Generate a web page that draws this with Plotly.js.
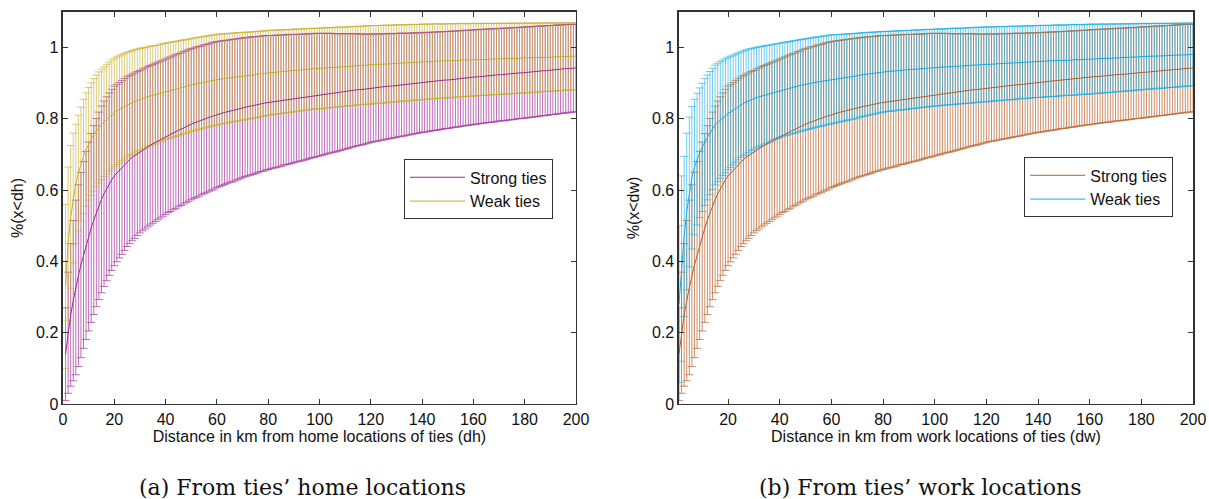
<!DOCTYPE html>
<html>
<head>
<meta charset="utf-8">
<script src="https://cdn.plot.ly/plotly-3.0.1.min.js"></script>
<style>html,body{margin:0;padding:0;background:#fff;}#chart{width:1209px;height:499px;}</style>
</head>
<body>
<div id="chart"></div>
<script>
// Distance grid (km), one error bar per km
const distanceKm = Array.from({length: 200}, (_, i) => i + 1);

// Strong ties: mean CDF and std (same in both panels)
const strongMean = [
0.140,0.200,0.250,0.290,0.327,0.360,0.390,0.418,0.445,0.470,
0.494,0.516,0.537,0.556,0.574,0.590,0.604,0.617,0.629,0.640,
0.648,0.656,0.664,0.672,0.680,0.686,0.692,0.697,0.703,0.708,
0.713,0.717,0.722,0.726,0.730,0.734,0.738,0.742,0.746,0.750,
0.754,0.757,0.761,0.764,0.768,0.771,0.775,0.778,0.782,0.785,
0.788,0.791,0.793,0.796,0.799,0.801,0.804,0.807,0.809,0.812,
0.814,0.816,0.818,0.820,0.822,0.823,0.825,0.827,0.829,0.831,
0.833,0.834,0.836,0.837,0.839,0.840,0.842,0.843,0.845,0.846,
0.847,0.848,0.849,0.850,0.851,0.853,0.854,0.855,0.856,0.857,
0.858,0.859,0.860,0.861,0.862,0.864,0.865,0.866,0.867,0.868,
0.869,0.870,0.871,0.872,0.873,0.873,0.874,0.875,0.876,0.877,
0.878,0.879,0.880,0.881,0.882,0.882,0.883,0.884,0.885,0.886,
0.887,0.888,0.888,0.889,0.890,0.891,0.892,0.892,0.893,0.894,
0.895,0.896,0.896,0.897,0.898,0.899,0.900,0.900,0.901,0.902,
0.903,0.903,0.904,0.905,0.906,0.906,0.907,0.908,0.909,0.909,
0.910,0.911,0.912,0.912,0.913,0.914,0.915,0.915,0.916,0.917,
0.918,0.918,0.919,0.920,0.920,0.921,0.922,0.922,0.923,0.924,
0.924,0.925,0.925,0.926,0.927,0.927,0.928,0.929,0.929,0.930,
0.931,0.931,0.932,0.933,0.933,0.934,0.935,0.935,0.936,0.937,
0.937,0.938,0.939,0.939,0.940,0.941,0.941,0.942,0.942,0.943];
const strongStd = [
0.130,0.170,0.200,0.225,0.245,0.255,0.260,0.262,0.264,0.265,
0.265,0.265,0.264,0.263,0.262,0.260,0.258,0.256,0.254,0.252,
0.249,0.246,0.244,0.241,0.238,0.236,0.234,0.232,0.230,0.228,
0.227,0.226,0.225,0.224,0.223,0.222,0.221,0.220,0.219,0.218,
0.217,0.217,0.216,0.216,0.215,0.214,0.214,0.213,0.213,0.212,
0.211,0.211,0.210,0.209,0.209,0.208,0.207,0.207,0.206,0.205,
0.204,0.203,0.202,0.201,0.200,0.200,0.199,0.198,0.197,0.196,
0.195,0.194,0.194,0.193,0.192,0.191,0.190,0.190,0.189,0.188,
0.187,0.186,0.186,0.185,0.184,0.183,0.182,0.182,0.181,0.180,
0.179,0.178,0.178,0.177,0.176,0.175,0.174,0.174,0.173,0.172,
0.171,0.170,0.169,0.168,0.167,0.166,0.165,0.164,0.163,0.162,
0.161,0.160,0.159,0.158,0.157,0.156,0.155,0.154,0.153,0.152,
0.151,0.151,0.150,0.149,0.149,0.148,0.148,0.147,0.146,0.146,
0.145,0.145,0.144,0.143,0.143,0.142,0.142,0.141,0.140,0.140,
0.140,0.139,0.139,0.138,0.138,0.138,0.137,0.137,0.136,0.136,
0.136,0.135,0.135,0.135,0.134,0.134,0.134,0.133,0.133,0.133,
0.133,0.132,0.132,0.132,0.131,0.131,0.131,0.131,0.130,0.130,
0.130,0.130,0.129,0.129,0.129,0.129,0.128,0.128,0.128,0.128,
0.128,0.127,0.127,0.127,0.127,0.126,0.126,0.126,0.126,0.125,
0.125,0.125,0.125,0.124,0.124,0.124,0.124,0.123,0.123,0.123];

// Weak ties, distance from home locations
const weakHomeMean = [
0.330,0.450,0.525,0.578,0.617,0.648,0.673,0.695,0.714,0.730,
0.743,0.755,0.766,0.776,0.785,0.792,0.799,0.806,0.812,0.818,
0.823,0.827,0.832,0.836,0.840,0.843,0.846,0.849,0.852,0.855,
0.857,0.859,0.862,0.864,0.866,0.868,0.870,0.873,0.875,0.877,
0.879,0.881,0.883,0.884,0.886,0.888,0.890,0.891,0.893,0.895,
0.897,0.898,0.900,0.901,0.903,0.904,0.906,0.907,0.909,0.910,
0.911,0.912,0.913,0.914,0.915,0.916,0.917,0.918,0.919,0.920,
0.920,0.921,0.922,0.923,0.924,0.925,0.926,0.927,0.928,0.929,
0.930,0.930,0.931,0.932,0.932,0.933,0.934,0.934,0.935,0.936,
0.936,0.937,0.938,0.938,0.939,0.940,0.940,0.941,0.941,0.942,
0.942,0.943,0.943,0.944,0.944,0.945,0.945,0.946,0.946,0.947,
0.947,0.948,0.948,0.949,0.949,0.950,0.950,0.951,0.951,0.952,
0.952,0.953,0.953,0.953,0.954,0.954,0.955,0.955,0.955,0.956,
0.956,0.957,0.957,0.957,0.958,0.958,0.959,0.959,0.959,0.960,
0.960,0.961,0.961,0.961,0.962,0.962,0.962,0.962,0.963,0.963,
0.963,0.964,0.964,0.964,0.965,0.965,0.965,0.965,0.966,0.966,
0.966,0.966,0.967,0.967,0.967,0.967,0.968,0.968,0.968,0.968,
0.969,0.969,0.969,0.969,0.970,0.970,0.970,0.970,0.971,0.971,
0.971,0.971,0.972,0.972,0.972,0.972,0.973,0.973,0.973,0.973,
0.974,0.974,0.974,0.974,0.975,0.975,0.975,0.975,0.976,0.976];
const weakHomeStd = [
0.230,0.215,0.200,0.182,0.168,0.162,0.160,0.160,0.159,0.158,
0.158,0.158,0.157,0.156,0.155,0.154,0.154,0.153,0.153,0.152,
0.151,0.150,0.149,0.148,0.147,0.146,0.146,0.145,0.144,0.143,
0.142,0.141,0.140,0.140,0.139,0.138,0.137,0.137,0.136,0.135,
0.135,0.134,0.134,0.133,0.133,0.132,0.132,0.131,0.131,0.130,
0.130,0.130,0.129,0.129,0.129,0.128,0.128,0.128,0.127,0.127,
0.127,0.126,0.126,0.125,0.125,0.125,0.124,0.124,0.123,0.123,
0.123,0.122,0.122,0.121,0.121,0.121,0.120,0.120,0.119,0.119,
0.119,0.118,0.118,0.118,0.117,0.117,0.117,0.116,0.116,0.116,
0.116,0.115,0.115,0.115,0.114,0.114,0.114,0.113,0.113,0.113,
0.113,0.113,0.113,0.112,0.112,0.112,0.112,0.112,0.111,0.111,
0.111,0.111,0.111,0.111,0.110,0.110,0.110,0.110,0.110,0.110,
0.110,0.109,0.109,0.109,0.109,0.109,0.108,0.108,0.108,0.108,
0.108,0.107,0.107,0.107,0.107,0.107,0.106,0.106,0.106,0.106,
0.106,0.105,0.105,0.105,0.105,0.105,0.104,0.104,0.104,0.104,
0.104,0.103,0.103,0.103,0.103,0.103,0.102,0.102,0.102,0.102,
0.102,0.101,0.101,0.101,0.101,0.101,0.100,0.100,0.100,0.100,
0.100,0.099,0.099,0.099,0.099,0.099,0.098,0.098,0.098,0.098,
0.098,0.097,0.097,0.097,0.097,0.097,0.096,0.096,0.096,0.096,
0.096,0.095,0.095,0.095,0.095,0.095,0.094,0.094,0.094,0.094];

// Weak ties, distance from work locations
const weakWorkMean = [
0.280,0.380,0.470,0.540,0.595,0.635,0.665,0.687,0.705,0.720,
0.735,0.748,0.760,0.772,0.783,0.790,0.797,0.803,0.809,0.815,
0.820,0.825,0.830,0.835,0.840,0.844,0.847,0.851,0.854,0.857,
0.860,0.862,0.864,0.867,0.869,0.871,0.873,0.876,0.878,0.880,
0.882,0.884,0.885,0.887,0.889,0.890,0.892,0.894,0.895,0.897,
0.898,0.900,0.901,0.903,0.904,0.905,0.907,0.908,0.910,0.911,
0.912,0.913,0.914,0.915,0.916,0.917,0.918,0.919,0.920,0.921,
0.923,0.924,0.925,0.926,0.927,0.928,0.929,0.930,0.931,0.932,
0.933,0.933,0.934,0.934,0.935,0.936,0.936,0.937,0.937,0.938,
0.939,0.939,0.940,0.940,0.941,0.942,0.942,0.943,0.943,0.944,
0.944,0.945,0.945,0.946,0.946,0.947,0.947,0.948,0.948,0.948,
0.949,0.949,0.950,0.950,0.951,0.951,0.952,0.952,0.953,0.953,
0.953,0.954,0.954,0.955,0.955,0.955,0.956,0.956,0.957,0.957,
0.957,0.958,0.958,0.959,0.959,0.959,0.960,0.960,0.961,0.961,
0.961,0.962,0.962,0.962,0.963,0.963,0.963,0.964,0.964,0.964,
0.965,0.965,0.965,0.966,0.966,0.966,0.967,0.967,0.967,0.968,
0.968,0.968,0.969,0.969,0.969,0.970,0.970,0.970,0.971,0.971,
0.971,0.972,0.972,0.972,0.973,0.973,0.973,0.974,0.974,0.975,
0.975,0.975,0.976,0.976,0.976,0.977,0.977,0.977,0.977,0.978,
0.978,0.978,0.979,0.979,0.979,0.980,0.980,0.980,0.981,0.981];
const weakWorkStd = [
0.220,0.260,0.225,0.220,0.210,0.200,0.190,0.185,0.182,0.180,
0.178,0.175,0.173,0.170,0.168,0.166,0.164,0.162,0.160,0.158,
0.156,0.154,0.152,0.150,0.148,0.147,0.146,0.145,0.143,0.142,
0.141,0.140,0.139,0.138,0.137,0.136,0.135,0.134,0.133,0.132,
0.132,0.131,0.131,0.130,0.130,0.130,0.129,0.129,0.128,0.128,
0.128,0.127,0.127,0.127,0.126,0.126,0.126,0.125,0.125,0.125,
0.124,0.124,0.123,0.122,0.122,0.121,0.121,0.120,0.120,0.119,
0.118,0.118,0.117,0.117,0.116,0.115,0.115,0.114,0.114,0.113,
0.113,0.112,0.112,0.112,0.112,0.111,0.111,0.111,0.111,0.110,
0.110,0.110,0.110,0.109,0.109,0.109,0.109,0.108,0.108,0.108,
0.108,0.108,0.107,0.107,0.107,0.107,0.107,0.107,0.106,0.106,
0.106,0.106,0.106,0.106,0.106,0.105,0.105,0.105,0.105,0.105,
0.105,0.104,0.104,0.104,0.104,0.104,0.103,0.103,0.103,0.103,
0.103,0.102,0.102,0.102,0.102,0.102,0.101,0.101,0.101,0.101,
0.101,0.101,0.100,0.100,0.100,0.100,0.100,0.100,0.099,0.099,
0.099,0.099,0.099,0.099,0.099,0.098,0.098,0.098,0.098,0.098,
0.098,0.097,0.097,0.097,0.097,0.096,0.096,0.096,0.096,0.095,
0.095,0.095,0.095,0.094,0.094,0.094,0.094,0.093,0.093,0.093,
0.093,0.092,0.092,0.092,0.092,0.091,0.091,0.091,0.091,0.090,
0.090,0.090,0.090,0.089,0.089,0.089,0.089,0.088,0.088,0.088];

const yTickVals = [0, 0.2, 0.4, 0.6, 0.8, 1];
const yTickText = ['0', '0.2', '0.4', '0.6', '0.8', '1'];
const xTickValsHome = [0, 20, 40, 60, 80, 100, 120, 140, 160, 180, 200];
const xTickValsWork = [20, 40, 60, 80, 100, 120, 140, 160, 180, 200];
const seriesNames = ['Strong ties', 'Weak ties'];
const captions = ['(a) From ties\u2019 home locations', '(b) From ties\u2019 work locations'];

const C = {
  magenta: '#9a2a95', magentaBar: 'rgba(165,60,160,0.9)',
  gold: '#c4ad2c', goldBar: 'rgba(200,175,45,0.75)',
  brown: '#b05e2c', brownBar: 'rgba(185,105,55,0.9)',
  cyan: '#12abe4', cyanBar: 'rgba(25,175,232,0.75)'
};

function bars(mean, std, barColor, xa, ya) {
  return {
    x: distanceKm, y: mean, xaxis: xa, yaxis: ya, type: 'scatter', mode: 'markers',
    marker: {size: 1, opacity: 0}, showlegend: false, hoverinfo: 'skip',
    error_y: {type: 'data', array: std, visible: true, color: barColor, thickness: 0.85, width: 4}
  };
}
function meanLine(mean, name, color, xa, ya, legend) {
  return {
    x: distanceKm, y: mean, xaxis: xa, yaxis: ya, type: 'scatter', mode: 'lines',
    name: name, line: {color: color, width: 1}, legend: legend
  };
}

const traces = [
  bars(strongMean, strongStd, C.magentaBar, 'x', 'y'),
  bars(weakHomeMean, weakHomeStd, C.goldBar, 'x', 'y'),
  bars(strongMean, strongStd, C.brownBar, 'x2', 'y2'),
  bars(weakWorkMean, weakWorkStd, C.cyanBar, 'x2', 'y2'),
  meanLine(strongMean, seriesNames[0], C.magenta, 'x', 'y', 'legend'),
  meanLine(weakHomeMean, seriesNames[1], C.gold, 'x', 'y', 'legend'),
  meanLine(strongMean, seriesNames[0], C.brown, 'x2', 'y2', 'legend2'),
  meanLine(weakWorkMean, seriesNames[1], C.cyan, 'x2', 'y2', 'legend2')
];

const FONT = 'Liberation Sans, Arial, Helvetica, sans-serif';
const axisBase = {
  showline: true, mirror: 'ticks', linecolor: '#333', linewidth: 1.5,
  ticks: 'inside', ticklen: 5, tickwidth: 1, tickcolor: '#333',
  showgrid: false, zeroline: false,
  tickfont: {family: FONT, size: 16, color: '#111'}
};
const yDomain = [0.1904, 0.976];
const titleFont = {family: FONT, size: 16, color: '#111'};

const layout = {
  width: 1209, height: 499,
  margin: {l: 0, r: 0, t: 0, b: 0},
  paper_bgcolor: '#fff', plot_bgcolor: '#fff',
  font: {family: FONT, color: '#111'},
  xaxis: Object.assign({}, axisBase, {
    domain: [0.0521, 0.4764], range: [0, 200], tickvals: xTickValsHome, anchor: 'y',
    title: {text: 'Distance in km from home locations of ties (dh)', font: titleFont, standoff: 2}
  }),
  yaxis: Object.assign({}, axisBase, {
    domain: yDomain, range: [0, 1.1], tickvals: yTickVals, ticktext: yTickText, anchor: 'x',
    title: {text: '%(x&lt;dh)', font: titleFont, standoff: 8}
  }),
  xaxis2: Object.assign({}, axisBase, {
    domain: [0.5616, 0.9868], range: [1, 200], tickvals: xTickValsWork, anchor: 'y2',
    title: {text: 'Distance in km from work locations of ties (dw)', font: titleFont, standoff: 2}
  }),
  yaxis2: Object.assign({}, axisBase, {
    domain: yDomain, range: [0, 1.1], tickvals: yTickVals, ticktext: yTickText, anchor: 'x2',
    title: {text: '%(x&lt;dw)', font: titleFont, standoff: 8}
  }),
  legend: {
    x: 0.334, y: 0.681, xanchor: 'left', yanchor: 'top',
    bgcolor: '#fff', bordercolor: '#333', borderwidth: 1.2,
    font: {family: FONT, size: 16, color: '#111'}, tracegroupgap: 0, itemwidth: 55
  },
  legend2: {
    x: 0.847, y: 0.685, xanchor: 'left', yanchor: 'top',
    bgcolor: '#fff', bordercolor: '#333', borderwidth: 1.2,
    font: {family: FONT, size: 16, color: '#111'}, tracegroupgap: 0, itemwidth: 55
  },
  annotations: [
    {text: captions[0], xref: 'paper', yref: 'paper', x: 0.2506, y: 0.024, xanchor: 'center', yanchor: 'middle',
     showarrow: false, font: {family: 'DejaVu Serif, serif', size: 22, color: '#111'}},
    {text: captions[1], xref: 'paper', yref: 'paper', x: 0.761, y: 0.024, xanchor: 'center', yanchor: 'middle',
     showarrow: false, font: {family: 'DejaVu Serif, serif', size: 22, color: '#111'}}
  ]
};

Plotly.newPlot('chart', traces, layout, {displayModeBar: false, staticPlot: true});
</script>
</body>
</html>
